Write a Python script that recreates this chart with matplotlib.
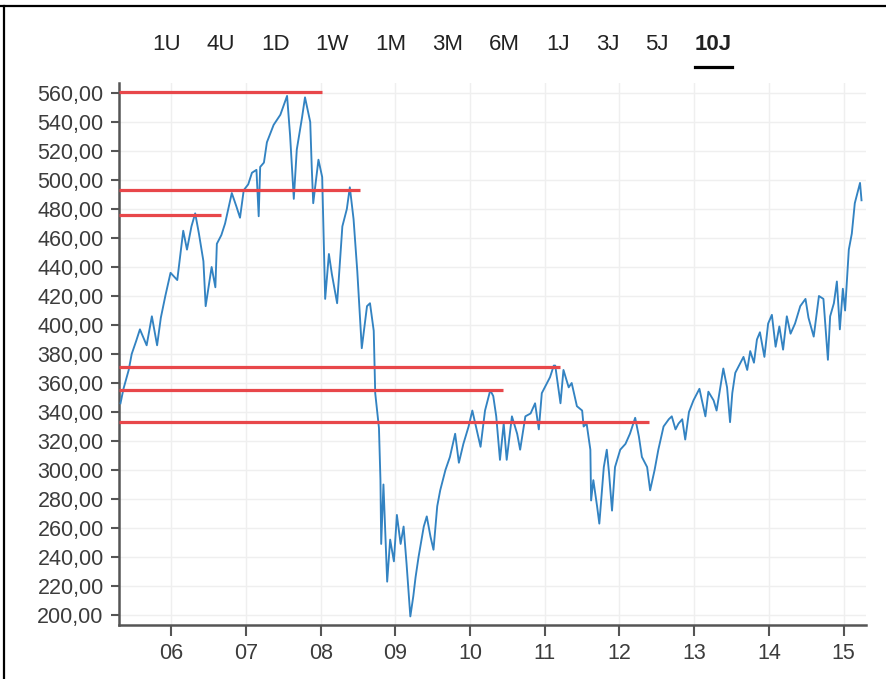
import matplotlib
matplotlib.use("Agg")
import matplotlib.pyplot as plt
from matplotlib.lines import Line2D

plt.rcParams['font.family'] = ['Liberation Sans', 'DejaVu Sans']

# price history (decimal years)
years = [
    2005.32, 2005.36, 2005.43, 2005.47, 2005.53, 2005.58, 2005.67, 2005.74, 2005.81, 2005.86,
    2005.92, 2005.99, 2006.08, 2006.16, 2006.21, 2006.27, 2006.32, 2006.37, 2006.43, 2006.46,
    2006.54, 2006.59, 2006.61, 2006.67, 2006.72, 2006.81, 2006.87, 2006.92, 2006.97, 2007.03,
    2007.08, 2007.14, 2007.17, 2007.19, 2007.24, 2007.28, 2007.37, 2007.46, 2007.55, 2007.59,
    2007.64, 2007.68, 2007.75, 2007.79, 2007.86, 2007.88, 2007.90, 2007.97, 2008.02, 2008.06,
    2008.11, 2008.15, 2008.22, 2008.29, 2008.35, 2008.39, 2008.44, 2008.49, 2008.53, 2008.55,
    2008.62, 2008.66, 2008.71, 2008.73, 2008.78, 2008.80, 2008.81, 2008.84, 2008.89, 2008.93,
    2008.98, 2009.02, 2009.07, 2009.11, 2009.15, 2009.20, 2009.24, 2009.27, 2009.31, 2009.38,
    2009.42, 2009.47, 2009.51, 2009.56, 2009.60, 2009.67, 2009.73, 2009.80, 2009.85, 2009.91,
    2009.98, 2010.03, 2010.07, 2010.14, 2010.20, 2010.27, 2010.31, 2010.35, 2010.40, 2010.45,
    2010.49, 2010.56, 2010.63, 2010.67, 2010.74, 2010.81, 2010.87, 2010.92, 2010.96, 2011.03,
    2011.07, 2011.12, 2011.14, 2011.21, 2011.25, 2011.32, 2011.36, 2011.43, 2011.50, 2011.52,
    2011.56, 2011.61, 2011.62, 2011.65, 2011.70, 2011.73, 2011.79, 2011.83, 2011.86, 2011.90,
    2011.94, 2012.01, 2012.08, 2012.14, 2012.21, 2012.26, 2012.30, 2012.37, 2012.41, 2012.47,
    2012.52, 2012.59, 2012.66, 2012.70, 2012.75, 2012.79, 2012.84, 2012.88, 2012.93, 2012.99,
    2013.02, 2013.07, 2013.15, 2013.19, 2013.26, 2013.30, 2013.35, 2013.39, 2013.44, 2013.48,
    2013.51, 2013.55, 2013.62, 2013.66, 2013.71, 2013.75, 2013.80, 2013.84, 2013.88, 2013.94,
    2013.99, 2014.04, 2014.09, 2014.14, 2014.19, 2014.24, 2014.29, 2014.35, 2014.42, 2014.49,
    2014.53, 2014.60, 2014.67, 2014.73, 2014.79, 2014.82, 2014.87, 2014.91, 2014.95, 2014.99,
    2015.02, 2015.07, 2015.11, 2015.15, 2015.22, 2015.24,
]
prices = [
    346, 356, 369, 380, 389, 397, 386, 406, 386, 405,
    420, 436, 431, 465, 452, 468, 477, 463, 444, 413,
    440, 426, 456, 462, 470, 491, 482, 474, 493, 497,
    505, 507, 475, 509, 512, 526, 538, 545, 558, 531,
    487, 521, 543, 557, 540, 509, 484, 514, 502, 418,
    449, 435, 415, 468, 480, 495, 473, 437, 401, 384,
    413, 415, 396, 353, 329, 293, 249, 290, 223, 252,
    237, 269, 249, 261, 235, 199, 213, 226, 240, 261,
    268, 254, 245, 275, 286, 300, 309, 325, 305, 318,
    330, 341, 332, 316, 341, 355, 351, 337, 307, 332,
    307, 337, 325, 314, 337, 339, 346, 328, 353, 360,
    364, 372, 372, 346, 369, 357, 360, 344, 341, 330,
    332, 314, 279, 293, 275, 263, 302, 314, 298, 272,
    302, 314, 318, 325, 336, 323, 309, 302, 286, 300,
    314, 330, 335, 337, 328, 332, 335, 321, 340, 348,
    351, 356, 337, 354, 348, 341, 357, 370, 357, 333,
    353, 367, 374, 378, 369, 382, 374, 390, 395, 378,
    401, 407, 385, 399, 383, 406, 394, 401, 413, 418,
    405, 392, 420, 418, 376, 406, 415, 430, 397, 425,
    410, 452, 463, 484, 498, 486,
]

# red resistance/support levels and where each one stops
level_values = [561, 493, 476, 371, 355, 333]
level_ends = [2008.02, 2008.53, 2006.66, 2011.20, 2010.44, 2012.39]

period_labels = ["1U", "4U", "1D", "1W", "1M", "3M", "6M", "1J", "3J", "5J", "10J"]
active_period = "10J"

tick_years = list(range(2006, 2016))
tick_labels = ["06", "07", "08", "09", "10", "11", "12", "13", "14", "15"]
y_ticks = list(range(200, 561, 20))

W, H = 887, 679
fig = plt.figure(figsize=(W / 100, H / 100), dpi=100)
ax = fig.add_axes([119 / W, 1 - 625 / H, (866 - 119) / W, (625 - 83) / H])

ax.plot(years, prices, color="#3383c2", lw=1.35, zorder=3)
ax.hlines(level_values, years[0] - 0.02, level_ends, color="#e8474a", lw=2.3, zorder=4)

ax.set_xlim(2005.30, 2015.30)
ax.set_ylim(193.1, 566.9)
ax.set_xticks(tick_years)
ax.set_xticklabels(tick_labels)
ax.set_yticks(y_ticks)
ax.set_yticklabels([f"{v:.2f}".replace(".", ",") for v in y_ticks])

ax.grid(True, color="#efefef", lw=1.0, zorder=0)
for s in ["top", "right"]:
    ax.spines[s].set_visible(False)
for s in ["left", "bottom"]:
    ax.spines[s].set_color("#555555")
    ax.spines[s].set_linewidth(1.8)
ax.tick_params(axis="both", colors="#555555", labelcolor="#3c3c3c", labelsize=15.5, width=1.5)
ax.tick_params(axis="y", length=6, pad=5)
ax.tick_params(axis="x", length=8, pad=5)

# period selector on top, laid out left to right
fig.canvas.draw()
renderer = fig.canvas.get_renderer()
texts = []
for lab in period_labels:
    t = fig.text(0, 1 - 45 / H, lab, fontsize=16, color="#222222", va="center", ha="left",
                 fontweight="bold" if lab == active_period else "normal")
    texts.append(t)
widths = [t.get_window_extent(renderer).width for t in texts]
left_px, right_px = 152, 732
gap = (right_px - left_px - sum(widths)) / (len(texts) - 1)
x = left_px
for t, w in zip(texts, widths):
    t.set_x(x / W)
    if t.get_text() == active_period:
        fig.add_artist(Line2D([x / W, (x + w) / W], [1 - 67 / H] * 2, color="black", lw=2.3))
    x += w + gap

# screenshot frame on top and left edge
fig.add_artist(Line2D([0, 1], [1 - 5.5 / H] * 2, color="black", lw=1.6))
fig.add_artist(Line2D([4 / W] * 2, [0, 1 - 5.5 / H], color="black", lw=1.6))

fig.savefig("out.png", dpi=100)
